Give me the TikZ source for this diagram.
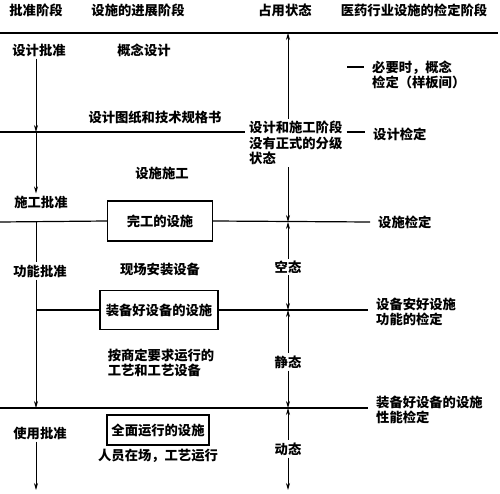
\documentclass[tikz,border=0pt]{standalone}
\usepackage{fontspec}
\setmainfont{Noto Sans CJK SC}
\usepackage{tikz}
\usetikzlibrary{arrows.meta}
\tikzset{
    tnode/.style = {align=center, inner sep=2pt, font=\fontsize{13.3}{15.5}\selectfont\bfseries},
    lnode/.style = {tnode, align=left},
    chk/.style = {lnode, anchor=west, inner xsep=8pt},
    box/.style = {tnode, rectangle, draw=black, line width=1.2pt},
    hline/.style = {line width=1.2pt},
    vline/.style = {line width=0.7pt}
}

\begin{document}
\begin{tikzpicture}
            [x=1pt, y=-1pt, >={Stealth[length=7pt, width=4pt]}]
            \useasboundingbox (0,0) rectangle (500,494);

            \node [tnode] (h_approve) at (36,10) {批准阶段};
            \node [tnode] (h_progress) at (138,10) {设施的进展阶段};
            \node [tnode] (h_occupy) at (285,10) {占用状态};
            \node [tnode] (h_check) at (414,10) {医药行业设施的检定阶段};

            \node [tnode] (a_design) at (39,50) {设计批准};
            \node [tnode] (a_build) at (41,202) {施工批准};
            \node [tnode] (a_func) at (40,271) {功能批准};
            \node [tnode] (a_use) at (40,433) {使用批准};

            \node [tnode] (p_concept) at (144,50) {概念设计};
            \node [tnode] (p_drawing) at (155,117) {设计图纸和技术规格书};
            \node [tnode] (p_build) at (162,173) {设施施工};
            \node [box, minimum width=105, minimum height=40] (p_done) at (160,221) {完工的设施};
            \node [tnode] (p_install) at (160,269) {现场安装设备};
            \node [box, minimum width=118, minimum height=39] (p_equip) at (159,310) {装备好设备的设施};
            \node [lnode] (p_run) at (161,363) {按商定要求运行的\\工艺和工艺设备};
            \node [box, minimum width=102, minimum height=30] (p_full) at (158,430) {全面运行的设施};
            \node [tnode] (p_staff) at (158,456) {人员在场，工艺运行};

            \node [lnode, anchor=west, inner xsep=4pt] (o_none) at (245,143) {设计和施工阶段\\没有正式的分级\\状态};
            \node [tnode] (o_empty) at (288,267) {空态};
            \node [tnode] (o_static) at (288,362) {静态};
            \node [tnode] (o_dynamic) at (288,449) {动态};

            \node [chk] (q_concept) at (364,75) {必要时，概念\\检定（样板间）};
            \node [chk] (q_design) at (365,134) {设计检定};
            \node [chk] (q_facility) at (370,222) {设施检定};
            \node [chk] (q_func) at (368,312) {设备安好设施\\功能的检定};
            \node [chk] (q_perf) at (368,410) {装备好设备的设施\\性能检定};

            \coordinate (lx) at (36,0);
            \coordinate (rx) at (288,0);
            \coordinate (l1w) at (0,33);
            \coordinate (l1e) at (498,33);
            \coordinate (l2w) at (0,132);
            \coordinate (l3w) at (0,222);
            \coordinate (l4w) at (36,310);
            \coordinate (l5w) at (0,408);
            \coordinate (dash) at (347,67);
            \coordinate (lend) at (36,490);
            \coordinate (rend) at (288,490);

            \draw [hline] (l1w) -- (l1e);
            \draw [hline] (l2w) -- (l2w -| o_none.west);
            \draw [hline] (l2w -| o_none.east) -- (l2w -| q_design.west);
            \draw [hline] (dash) -- (dash -| q_concept.west);
            \draw [hline] (l3w) -- (p_done.west);
            \draw [hline] (p_done.east) -- (q_facility.west);
            \draw [hline] (l4w) -- (p_equip.west);
            \draw [hline] (p_equip.east) -- (l4w -| q_func.west);
            \draw [hline] (l5w) -- (l5w -| q_perf.west);

            \draw [vline, ->] (a_design.south -| lx) -- (l2w -| lx);
            \draw [vline, ->] (l2w -| lx) -- (a_build.north -| lx);
            \draw [vline] (l3w -| lx) -- (a_func.north -| lx);
            \draw [vline, ->] (a_func.south -| lx) -- (l5w -| lx);
            \draw [vline, ->] (a_use.south -| lx) -- (lend);

            \draw [vline, <-] (l1w -| rx) -- (o_none.north -| rx);
            \draw [vline, ->] (o_none.south -| rx) -- (l3w -| rx);
            \draw [vline, <-] (l3w -| rx) -- (o_empty.north);
            \draw [vline, ->] (o_empty.south) -- (l4w -| rx);
            \draw [vline, <-] (l4w -| rx) -- (o_static.north);
            \draw [vline, ->] (o_static.south) -- (l5w -| rx);
            \draw [vline, <-] (l5w -| rx) -- (o_dynamic.north);
            \draw [vline, ->] (o_dynamic.south) -- (rend);
\end{tikzpicture}
\end{document}
